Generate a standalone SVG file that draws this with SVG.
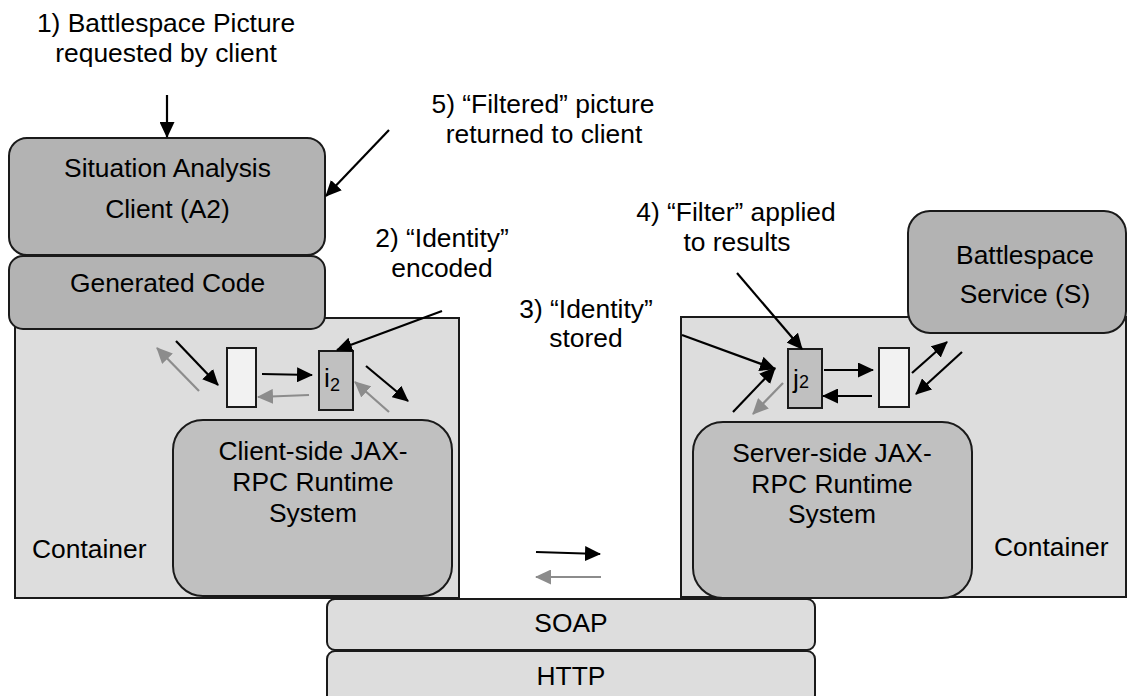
<svg xmlns="http://www.w3.org/2000/svg" width="1128" height="696" viewBox="0 0 1128 696">
<defs>
<style>
text{font-family:"Liberation Sans",Arial,sans-serif;font-size:26.4px;fill:#000;text-anchor:middle}
.box{stroke:#1a1a1a;stroke-width:2}
.cont{fill:#dddddd}
.dark{fill:#b3b3b3}
.mid{fill:#c0c0c0}
.white{fill:#f2f2f2}
.lt{text-anchor:start}
.blk{stroke:#000;stroke-width:2.2;fill:none;marker-end:url(#hb)}
.gry{stroke:#8c8c8c;stroke-width:2.2;fill:none;marker-end:url(#hg)}
</style>
<marker id="hb" markerUnits="userSpaceOnUse" markerWidth="16" markerHeight="15" refX="15" refY="7.5" orient="auto"><path d="M0,0 L16,7.5 L0,15 z" fill="#000"/></marker>
<marker id="hg" markerUnits="userSpaceOnUse" markerWidth="16" markerHeight="15" refX="15" refY="7.5" orient="auto"><path d="M0,0 L16,7.5 L0,15 z" fill="#8c8c8c"/></marker>
</defs>
<rect width="1128" height="696" fill="#fff"/>

<g id="client-container">
<rect class="box cont" x="15" y="318" width="444" height="280"/>
<text class="lt" x="32" y="558">Container</text>
</g>
<g id="server-container">
<rect class="box cont" x="681" y="317" width="445" height="280"/>
<text class="lt" x="994" y="556">Container</text>
</g>
<g id="generated-code">
<rect class="box dark" x="9" y="256" width="316" height="73" rx="14"/>
<text x="167.5" y="292">Generated Code</text>
</g>
<g id="situation-client">
<rect class="box dark" x="9" y="138" width="316" height="117" rx="18"/>
<text x="167.5" y="177">Situation Analysis</text>
<text x="167.5" y="218">Client (A2)</text>
</g>
<g id="client-runtime">
<rect class="box mid" x="173" y="420" width="279" height="176" rx="30"/>
<text x="313" y="460">Client-side JAX-</text>
<text x="313" y="491">RPC Runtime</text>
<text x="313" y="522">System</text>
</g>
<g id="battlespace-service">
<rect class="box dark" x="908" y="211" width="218" height="122" rx="22"/>
<text x="1025" y="264">Battlespace</text>
<text x="1025" y="303">Service (S)</text>
</g>
<g id="server-runtime">
<rect class="box mid" x="693" y="422" width="279" height="176" rx="30"/>
<text x="832" y="462">Server-side JAX-</text>
<text x="832" y="493">RPC Runtime</text>
<text x="832" y="523">System</text>
</g>
<g id="soap">
<rect class="box cont" x="327" y="599" width="488" height="51" rx="8"/>
<text x="571" y="632">SOAP</text>
</g>
<g id="http">
<rect class="box cont" x="327" y="651" width="488" height="52" rx="8"/>
<text x="571" y="685">HTTP</text>
</g>
<g id="client-handler">
<rect class="box white" x="227" y="348" width="29" height="59"/>
</g>
<g id="client-i2">
<rect class="box mid" x="319" y="351" width="34" height="59"/>
<text class="lt" x="324" y="387">i<tspan font-size="18" dy="4">2</tspan></text>
</g>
<g id="server-j2">
<rect class="box mid" x="788" y="349" width="34" height="59"/>
<text class="lt" x="793" y="388">j<tspan font-size="18">2</tspan></text>
</g>
<g id="server-handler">
<rect class="box white" x="879" y="348" width="30" height="59"/>
</g>

<g id="label-1">
<text x="166" y="32">1) Battlespace Picture</text>
<text x="166" y="62">requested by client</text>
</g>
<g id="label-5">
<text x="543" y="113">5) “Filtered” picture</text>
<text x="544" y="143">returned to client</text>
</g>
<g id="label-2">
<text x="442" y="247">2) “Identity”</text>
<text x="442" y="277">encoded</text>
</g>
<g id="label-3">
<text x="586" y="318">3) “Identity”</text>
<text x="586" y="347">stored</text>
</g>
<g id="label-4">
<text x="736" y="221">4) “Filter” applied</text>
<text x="737" y="251">to results</text>
</g>

<g id="connectors">
<line class="blk" x1="167" y1="95" x2="167" y2="137"/>
<line class="blk" x1="389" y1="130" x2="326" y2="196"/>
<line class="blk" x1="442" y1="311" x2="337" y2="350"/>
<line class="blk" x1="176" y1="341" x2="218" y2="385"/>
<line class="blk" x1="262" y1="374" x2="312" y2="375"/>
<line class="blk" x1="366" y1="366" x2="408" y2="401"/>
<line class="blk" x1="682" y1="335" x2="775" y2="369"/>
<line class="blk" x1="737" y1="273" x2="802" y2="349"/>
<line class="blk" x1="733" y1="412" x2="775" y2="368"/>
<line class="blk" x1="824" y1="370" x2="873" y2="370"/>
<line class="blk" x1="872" y1="396" x2="823" y2="396"/>
<line class="blk" x1="912" y1="373" x2="947" y2="342"/>
<line class="blk" x1="962" y1="352" x2="916" y2="394"/>
<line class="blk" x1="536" y1="552" x2="600" y2="554"/>
<line class="gry" x1="199" y1="391" x2="157" y2="348"/>
<line class="gry" x1="309" y1="395" x2="258" y2="397"/>
<line class="gry" x1="389" y1="412" x2="355" y2="382"/>
<line class="gry" x1="783" y1="383" x2="753" y2="414"/>
<line class="gry" x1="601" y1="577" x2="536" y2="577"/>
</g>
</svg>
